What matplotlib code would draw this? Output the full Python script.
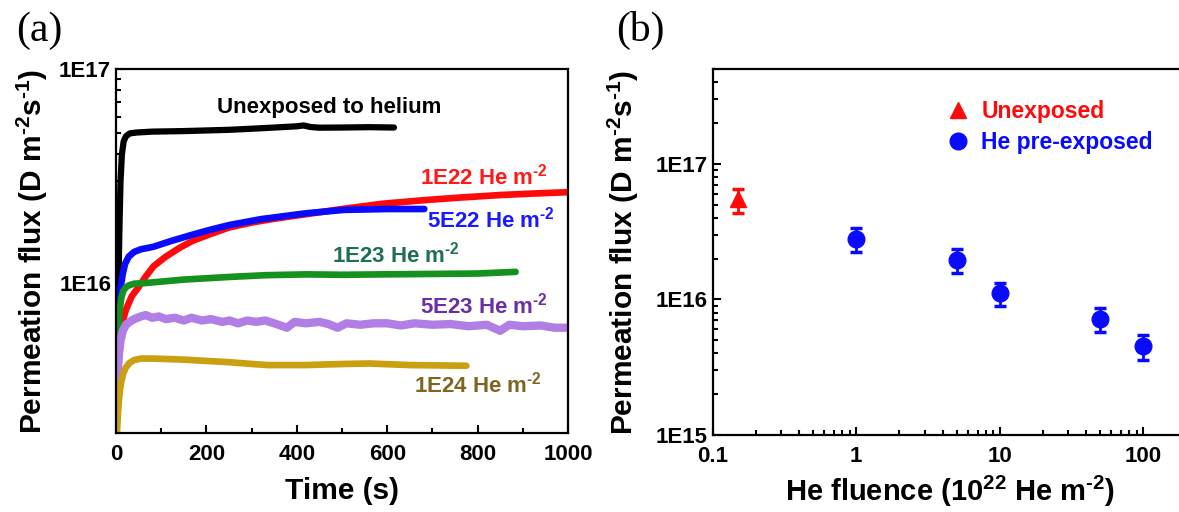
import numpy as np
import matplotlib
matplotlib.use("Agg")
import matplotlib.pyplot as plt
from matplotlib.ticker import FixedLocator, FuncFormatter, LogLocator, NullFormatter

plt.rcParams["font.family"] = ["Liberation Sans", "DejaVu Sans"]
plt.rcParams["font.weight"] = "bold"
plt.rcParams["mathtext.fontset"] = "custom"
plt.rcParams["mathtext.rm"] = "Liberation Sans:bold"
plt.rcParams["mathtext.bf"] = "Liberation Sans:bold"
plt.rcParams["mathtext.default"] = "bf"

# (a) permeation flux transients, flux in units of 1E15 D m^-2 s^-1
t_black = [1, 2, 4, 6, 8, 10, 13, 17, 22, 30, 45, 80, 150, 250, 330, 400, 415, 430, 450, 500, 560, 615]
v_black = [2.0, 3.0, 6.0, 12, 20, 30, 40, 46, 48.5, 50, 50.5, 51, 51.3, 52, 53, 54, 54.5, 53.6, 53.2, 53.3, 53.5, 53.3]

t_red = [5, 10, 15, 20, 25, 35, 50, 65, 83, 110, 140, 170, 210, 250, 300, 350, 420, 500, 590, 680, 760, 850, 920, 1000]
v_red = [4.0, 5.5, 6.6, 7.3, 7.8, 8.7, 9.6, 10.7, 12.0, 13.3, 14.6, 15.8, 17.0, 18.2, 19.2, 20.0, 21.0, 22.2, 23.5, 24.4, 25.1, 25.8, 26.2, 26.6]

t_blue = [3, 6, 10, 15, 20, 28, 40, 55, 83, 120, 167, 210, 251, 320, 420, 505, 600, 682]
v_blue = [5.5, 7.5, 9.5, 11.1, 12.3, 13.3, 14.0, 14.4, 14.8, 15.7, 16.8, 17.8, 18.7, 19.9, 21.2, 22.0, 22.2, 22.2]

t_green = [2, 5, 8, 12, 16, 22, 30, 40, 60, 83, 150, 251, 330, 420, 500, 589, 700, 800, 884]
v_green = [4.0, 6.0, 7.5, 8.6, 9.2, 9.6, 9.8, 9.95, 10.0, 10.1, 10.4, 10.7, 10.9, 11.0, 10.95, 11.0, 11.05, 11.1, 11.3]

t_purple = [1, 3, 6, 10, 15, 22, 30, 40, 55, 66, 80, 95, 110, 130, 150, 167, 190, 210, 235, 251,
            270, 290, 310, 330, 350, 378, 395, 420, 450, 470, 490, 510, 540, 570, 600, 630, 660, 700,
            740, 780, 820, 850, 870, 900, 940, 970, 1000]
v_purple = [2.5, 3.6, 4.6, 5.4, 6.0, 6.4, 6.6, 6.8, 7.0, 7.1, 6.9, 7.0, 6.8, 6.9, 6.7, 6.9, 6.7, 6.8, 6.6, 6.7,
            6.5, 6.7, 6.6, 6.7, 6.5, 6.2, 6.6, 6.5, 6.6, 6.45, 6.2, 6.5, 6.4, 6.5, 6.5, 6.35, 6.5, 6.4,
            6.45, 6.3, 6.4, 6.0, 6.4, 6.3, 6.35, 6.2, 6.2]

t_gold = [2, 4, 6, 9, 12, 16, 22, 30, 40, 55, 83, 150, 251, 300, 336, 420, 505, 560, 650, 775]
v_gold = [2.0, 2.4, 2.8, 3.2, 3.5, 3.8, 4.05, 4.25, 4.38, 4.45, 4.45, 4.4, 4.28, 4.2, 4.15, 4.15, 4.2, 4.22, 4.15, 4.12]

# (b) steady state flux vs He fluence (1E22 He m^-2), flux in 1E15
fl_unexp = [0.15]
flux_unexp = [54.5]
err_unexp = [11.0]
fl_he = [1, 5, 10, 50, 100]
flux_he = [28.0, 19.6, 11.1, 7.2, 4.55]
err_he = [5.8, 4.0, 2.2, 1.5, 0.95]

E15 = 1e15
HY = "\u2010"  # plain hyphen in superscripts, as in the original figure

fig = plt.figure(figsize=(11.79, 5.12), dpi=100)
ax1 = fig.add_axes([0.0984, 0.1543, 0.3834, 0.711])
ax2 = fig.add_axes([0.6044, 0.1504, 0.402, 0.715])

series = [
    (t_black, v_black, "#000000", 4.5),
    (t_red, v_red, "#ff0a0a", 4.8),
    (t_blue, v_blue, "#0a0aff", 4.8),
    (t_green, v_green, "#16901e", 4.8),
    (t_purple, v_purple, "#b07ee4", 6),
    (t_gold, v_gold, "#c9a010", 4.8),
]
for t, v, c, lw in series:
    ax1.plot(t, np.array(v) * E15, color=c, lw=lw, solid_capstyle="round", solid_joinstyle="round")

ax1.set_yscale("log")
ax1.set_xlim(0, 1000)
ax1.set_ylim(2e15, 1e17)

unit = "He m$^{" + HY + "2}$"
labels_a = [
    ("Unexposed to helium", 471, 66, "#000000"),
    ("1E22 " + unit, 813, 31.6, "#ff1a1a"),
    ("5E22 " + unit, 830, 19.8, "#1a1aff"),
    ("1E23 " + unit, 619, 13.6, "#1f6f55"),
    ("5E23 " + unit, 813, 7.9, "#6a2ea6"),
    ("1E24 " + unit, 800, 3.35, "#7d6522"),
]
for s, x, y, c in labels_a:
    ax1.text(x, y * E15, s, color=c, fontsize=16, fontweight="bold", ha="center", va="center")

ax1.xaxis.set_major_locator(FixedLocator([0, 200, 400, 600, 800, 1000]))
ax1.xaxis.set_minor_locator(FixedLocator([100, 300, 500, 700, 900]))
ax1.set_xlabel("Time (s)", fontsize=21.5, fontweight="bold")

# (b)
ax2.errorbar(fl_unexp, np.array(flux_unexp) * E15, yerr=np.array(err_unexp) * E15, fmt="none",
             ecolor="#ff0a0a", elinewidth=2, capsize=4.5, capthick=2.5)
ax2.errorbar(fl_he, np.array(flux_he) * E15, yerr=np.array(err_he) * E15, fmt="none",
             ecolor="#0a0aff", elinewidth=2, capsize=4.5, capthick=2.5)
ax2.plot(fl_unexp, np.array(flux_unexp) * E15, "^", color="#ff0a0a", ms=12, mec="#ff0a0a",
         ls="none", label="Unexposed")
ax2.plot(fl_he, np.array(flux_he) * E15, "o", color="#0a0aff", ms=12, mec="#0a0aff",
         ls="none", label="He pre-exposed")
ax2.set_xscale("log")
ax2.set_yscale("log")
ax2.set_xlim(0.1, 200)
ax2.set_ylim(1e15, 5e17)
ax2.xaxis.set_major_locator(FixedLocator([0.1, 1, 10, 100]))
ax2.xaxis.set_major_formatter(FuncFormatter(lambda v, p: "%g" % v))
ax2.xaxis.set_minor_locator(LogLocator(base=10, subs=np.arange(2, 10), numticks=20))
ax2.xaxis.set_minor_formatter(NullFormatter())
ax2.set_xlabel("He fluence (10$^{22}$ He m$^{" + HY + "2}$)", fontsize=21, fontweight="bold")


def sci_fmt(v, pos):
    e = int(round(np.log10(v)))
    return "1E%d" % e


for ax in (ax1, ax2):
    ax.yaxis.set_major_locator(LogLocator(base=10, numticks=10))
    ax.yaxis.set_major_formatter(FuncFormatter(sci_fmt))
    ax.yaxis.set_minor_locator(LogLocator(base=10, subs=np.arange(2, 10), numticks=20))
    ax.yaxis.set_minor_formatter(NullFormatter())
    ax.tick_params(which="both", direction="in", top=False, right=False, width=1.5,
                   labelsize=16)
    ax.tick_params(axis="x", which="major", pad=8)
    ax.tick_params(which="major", length=6)
    ax.tick_params(which="minor", length=3.5)
    for sp in ax.spines.values():
        sp.set_linewidth(1.6)
    ax.set_ylabel("Permeation flux (D m$^{" + HY + "2}$s$^{" + HY + "1}$)", fontsize=21.5,
                  fontweight="bold")

ax1.xaxis.set_label_coords(0.5, -0.122)
ax2.xaxis.set_label_coords(0.5, -0.105)
ax1.yaxis.set_label_coords(-0.145, 0.5)
ax2.yaxis.set_label_coords(-0.152, 0.5)

leg = ax2.legend(loc="upper left", bbox_to_anchor=(0.47, 0.94), frameon=False,
                 labelcolor="markerfacecolor", prop={"size": 16.5, "weight": "bold"},
                 handletextpad=0.4, handlelength=1.2, labelspacing=0.35, borderaxespad=0)

fig.text(0.014, 0.978, "(a)", fontsize=30, family="Liberation Serif", fontweight="normal",
         va="top", ha="left")
fig.text(0.523, 0.978, "(b)", fontsize=30, family="Liberation Serif", fontweight="normal",
         va="top", ha="left")

fig.savefig("out.png", dpi=100)
